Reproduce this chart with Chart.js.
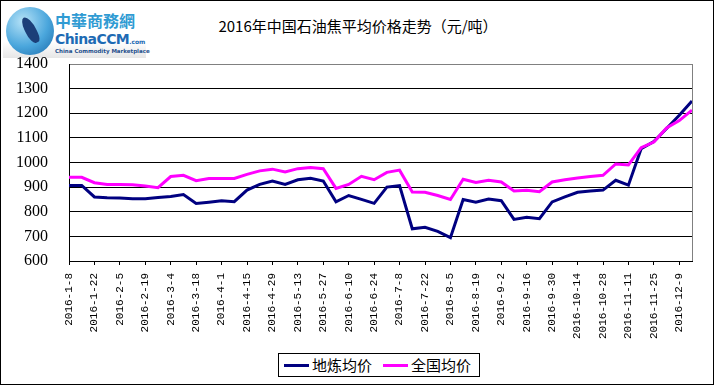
<!DOCTYPE html>
<html>
<head>
<meta charset="utf-8">
<title>2016年中国石油焦平均价格走势</title>
<script src="https://cdn.jsdelivr.net/npm/chart.js"></script>
<style>
  html, body { margin: 0; padding: 0; background: #fff; }
  body { width: 716px; height: 386px; position: relative; overflow: hidden; }
  #frame { position: absolute; left: 0; top: 0; width: 712px; height: 383px; border: 1px solid #000; }
  #chart { position: absolute; left: 0; top: 0; }
  #logo {
    position: absolute; left: 3px; top: 3px; width: 143px; height: 55px;
    background: linear-gradient(#fff 70%, #e6e6e6);
  }
  #logo .globe {
    position: absolute; left: 3px; top: 4px; width: 48px; height: 48px; border-radius: 50%;
    background: radial-gradient(circle at 35% 30%, #b5e2f7, #4aa6dc 55%, #1a68a8);
  }
  #logo .globe i {
    position: absolute; left: 19px; top: 9px; width: 11px; height: 28px;
    background: #1c3f78; border-radius: 40% 60% 30% 50%; transform: rotate(-25deg);
  }
  #logo .cn {
    position: absolute; left: 52px; top: 7px; font: bold 16px "Noto Sans CJK TC", sans-serif;
    color: #2f9bd3; line-height: 20px;
  }
  #logo .en {
    position: absolute; left: 52px; top: 27px; font: bold 14px "DejaVu Sans", sans-serif;
    color: #1e6bb4; letter-spacing: -0.6px; line-height: 18px;
  }
  #logo .en span { font-size: 6px; letter-spacing: 0; }
  #logo .tag {
    position: absolute; left: 52px; top: 45px; font: bold 5.5px "DejaVu Sans", sans-serif;
    color: #1e4f8c; white-space: nowrap; line-height: 7px;
  }
  #title {
    position: absolute; left: 0; top: 16px; width: 716px; text-align: center;
    font: 15px "Noto Sans CJK SC", sans-serif; color: #000; line-height: 20px;
  }
  #legend {
    position: absolute; left: 278px; top: 353px; width: 200px; height: 22px;
    border: 1px solid #000; background: #fff;
    font: 15px "Noto Sans CJK SC", sans-serif; line-height: 22px; white-space: nowrap;
  }
  #legend .item { position: absolute; top: 0; }
  #legend .swatch { position: absolute; top: 10px; width: 25px; height: 3px; }
</style>
</head>
<body>
<div id="frame"></div>
<div id="logo">
  <div class="globe"><i></i></div>
  <div class="cn">中華商務網</div>
  <div class="en">ChinaCCM<span>.com</span></div>
  <div class="tag">China Commodity Marketplace</div>
</div>
<div id="title">2016年中国石油焦平均价格走势（元/吨）</div>
<canvas id="chart" width="716" height="386"></canvas>
<div id="legend">
  <div class="swatch" style="left:5px;background:#000080"></div>
  <div class="item" style="left:33px">地炼均价</div>
  <div class="swatch" style="left:104px;background:#ff00ff"></div>
  <div class="item" style="left:132px">全国均价</div>
</div>
<script>
// 每周日期
const dates = [
  '2016-1-8', '2016-1-15', '2016-1-22', '2016-1-29', '2016-2-5', '2016-2-12', '2016-2-19', '2016-2-26',
  '2016-3-4', '2016-3-11', '2016-3-18', '2016-3-25', '2016-4-1', '2016-4-8', '2016-4-15', '2016-4-22',
  '2016-4-29', '2016-5-6', '2016-5-13', '2016-5-20', '2016-5-27', '2016-6-3', '2016-6-10', '2016-6-17',
  '2016-6-24', '2016-7-1', '2016-7-8', '2016-7-15', '2016-7-22', '2016-7-29', '2016-8-5', '2016-8-12',
  '2016-8-19', '2016-8-26', '2016-9-2', '2016-9-9', '2016-9-16', '2016-9-23', '2016-9-30', '2016-10-7',
  '2016-10-14', '2016-10-21', '2016-10-28', '2016-11-4', '2016-11-11', '2016-11-18', '2016-11-25', '2016-12-2',
  '2016-12-9', '2016-12-16'
];

// 地炼均价
const localPrice = [
  907, 907, 860, 857, 856, 853, 853, 858, 862, 870,
  834, 839, 845, 841, 888, 911, 925, 911, 930, 936,
  925, 840, 866, 850, 834, 900, 906, 731, 737, 720,
  695, 850, 839, 852, 845, 769, 778, 772, 840, 860,
  879, 884, 888, 928, 908, 1056, 1085, 1138, 1192, 1250
];

// 全国均价
const nationalPrice = [
  940, 940, 918, 911, 911, 910, 905, 898, 943, 948,
  926, 935, 935, 935, 952, 966, 973, 962, 975, 980,
  975, 895, 911, 944, 930, 960, 969, 880, 879, 866,
  850, 932, 919, 928, 921, 884, 887, 881, 921, 930,
  937, 943, 948, 994, 990, 1060, 1083, 1140, 1170, 1213
];

const yMin = 600;
const yMax = 1400;
const yStep = 100;

// 画区右边框
const plotBorder = {
  id: 'plotBorder',
  afterDraw(chart) {
    const a = chart.chartArea;
    const ctx = chart.ctx;
    ctx.save();
    ctx.strokeStyle = '#808080';
    ctx.lineWidth = 1;
    ctx.beginPath();
    ctx.moveTo(Math.round(a.right) + 0.5, Math.round(a.top));
    ctx.lineTo(Math.round(a.right) + 0.5, Math.round(a.bottom));
    ctx.stroke();
    ctx.restore();
  }
};

new Chart(document.getElementById('chart'), {
  type: 'line',
  data: {
    labels: dates,
    datasets: [
      {
        label: '地炼均价',
        data: localPrice,
        borderColor: '#000080',
        borderWidth: 3,
        pointRadius: 0,
        tension: 0,
        fill: false,
        order: 1
      },
      {
        label: '全国均价',
        data: nationalPrice,
        borderColor: '#ff00ff',
        borderWidth: 3,
        pointRadius: 0,
        tension: 0,
        fill: false,
        order: 0
      }
    ]
  },
  options: {
    responsive: false,
    animation: false,
    layout: { padding: { top: 64, right: 24, left: 0, bottom: 0 } },
    plugins: {
      legend: { display: false },
      title: { display: false },
      tooltip: { enabled: false }
    },
    scales: {
      x: {
        offset: false,
        grid: {
          drawOnChartArea: false,
          drawTicks: true,
          tickLength: 4,
          color: ctx => (ctx.index % 2 === 0 ? '#000' : 'rgba(0,0,0,0)')
        },
        border: { display: true, color: '#000', width: 1 },
        ticks: {
          autoSkip: false,
          maxRotation: 90,
          minRotation: 90,
          padding: 8,
          color: '#000',
          font: { family: 'Liberation Mono', size: 11 },
          callback: function (v, i) { return i % 2 === 0 ? this.getLabelForValue(v) : ''; }
        },
        afterFit: s => { s.height = 125; }
      },
      y: {
        min: yMin,
        max: yMax,
        grid: {
          drawTicks: false,
          color: ctx => (ctx.tick && ctx.tick.value === yMax ? '#808080' : '#000')
        },
        border: { display: true, color: '#000', width: 1 },
        ticks: {
          stepSize: yStep,
          padding: 21,
          color: '#000',
          font: { family: 'Liberation Serif', size: 16 },
          callback: v => String(v)
        },
        afterFit: s => { s.width = 69; }
      }
    }
  },
  plugins: [plotBorder]
});
</script>
</body>
</html>
